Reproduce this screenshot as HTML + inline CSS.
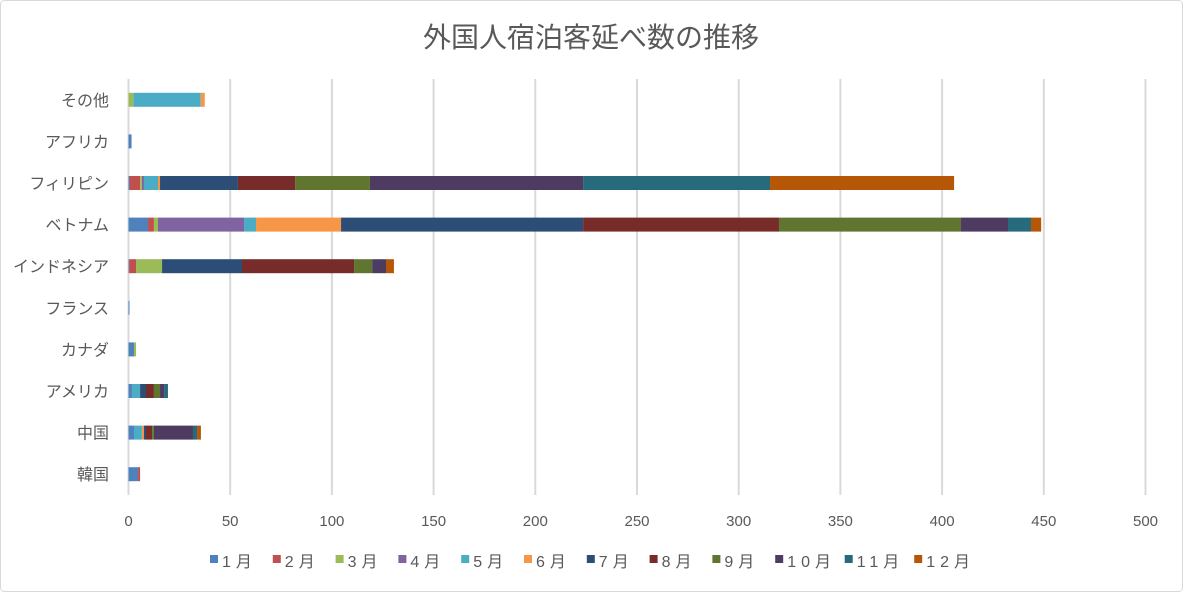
<!DOCTYPE html>
<html><head><meta charset="utf-8">
<style>
body{margin:0;background:#fff;}
#wrap{position:relative;width:1183px;height:592px;overflow:hidden;font-family:"Liberation Sans","Noto Sans CJK JP",sans-serif;}
</style></head>
<body>
<div id="wrap">
<svg id="chart" width="1183" height="592" xmlns="http://www.w3.org/2000/svg">
<rect x="0.5" y="0.5" width="1182" height="591" rx="4" fill="#fff" stroke="#d9d9d9"/>
<text x="591" y="47" text-anchor="middle" font-size="28" fill="#595959" font-family="Liberation Sans, Noto Sans CJK JP, sans-serif">外国人宿泊客延べ数の推移</text>
</svg>
</div>
<script>
const categories=["その他","アフリカ","フィリピン","ベトナム","インドネシア","フランス","カナダ","アメリカ","中国","韓国"];
const months=["1月","2月","3月","4月","5月","6月","7月","8月","9月","10月","11月","12月"];
const xTicks=[0,50,100,150,200,250,300,350,400,450,500];
const sOther=[0,0,2.5,0,33,2,0,0,0,0,0,0];
const sAfrica=[1.5,0,0,0,0,0,0,0,0,0,0,0];
const sPhil=[0.5,5.2,0.9,1,6.9,1,38.3,28.1,36.8,104.8,91.9,90.5];
const sViet=[9.6,2.9,2,42.3,5.9,41.8,119,96.3,89.5,23.1,11.3,5];
const sIndo=[0.3,3.4,12.8,0,0,0,39.3,55.1,8.9,6.8,0,3.9];
const sFrance=[0.5,0,0,0,0,0,0,0,0,0,0,0];
const sCanada=[2.7,0,1,0,0,0,0,0,0,0,0,0];
const sUSA=[1.7,0,0,0,4,0,2.9,3.9,3,2,1.9,0];
const sChina=[2.7,0,0,0,3.9,1,1,3,0.9,19.2,2,1.9];
const sKorea=[4.7,1,0,0,0,0,0,0,0,0,0,0];
const rows=[sOther,sAfrica,sPhil,sViet,sIndo,sFrance,sCanada,sUSA,sChina,sKorea];
const colors=["#4f81bd","#c0504d","#9bbb59","#8064a2","#4bacc6","#f79646","#2c4d75","#772c2a","#5f7530","#4d3b62","#276a7c","#b65708"];
const NS="http://www.w3.org/2000/svg";
const svg=document.getElementById('chart');
const x0=128.5,x1=1145.5,yTop=79,yBot=495;
const xs=v=>x0+(v/500)*(x1-x0);
const band=(yBot-yTop)/categories.length;
const yc=i=>yTop+band*(i+0.5);
function mk(t,a){const e=document.createElementNS(NS,t);for(const k in a)e.setAttribute(k,a[k]);svg.appendChild(e);return e;}
xTicks.forEach(t=>{
  const g=mk('line',{x1:xs(t),x2:xs(t),y1:yTop,y2:yBot,stroke:'#d9d9d9','stroke-width':2});
  
  
  const l=mk('text',{x:xs(t),y:526,'text-anchor':'middle','font-size':15,fill:'#595959'});
  l.textContent=t;
  
  
});
categories.forEach((c,i)=>{
  const l=mk('text',{x:109,y:yc(i)+6,'text-anchor':'end','font-size':16,fill:'#595959'});
  l.textContent=c;
  
  
  let acc=0;
  rows[i].forEach((v,m)=>{
    if(v<=0)return;
    const r=mk('rect',{x:xs(acc),y:yc(i)-7,width:xs(acc+v)-xs(acc),height:14,fill:colors[m]});
    
    
    acc+=v;
  });
});
let lx=210;
months.forEach((m,k)=>{
  const r=mk('rect',{x:lx,y:555,width:8,height:8,fill:colors[k]});
  
  
  const t=mk('text',{x:lx+12,y:567,'font-size':16,fill:'#595959','letter-spacing':'5'});
  t.textContent=m;
  
  
  lx+= m.length>2?69.5:62.8;
});
</script>
</body></html>
